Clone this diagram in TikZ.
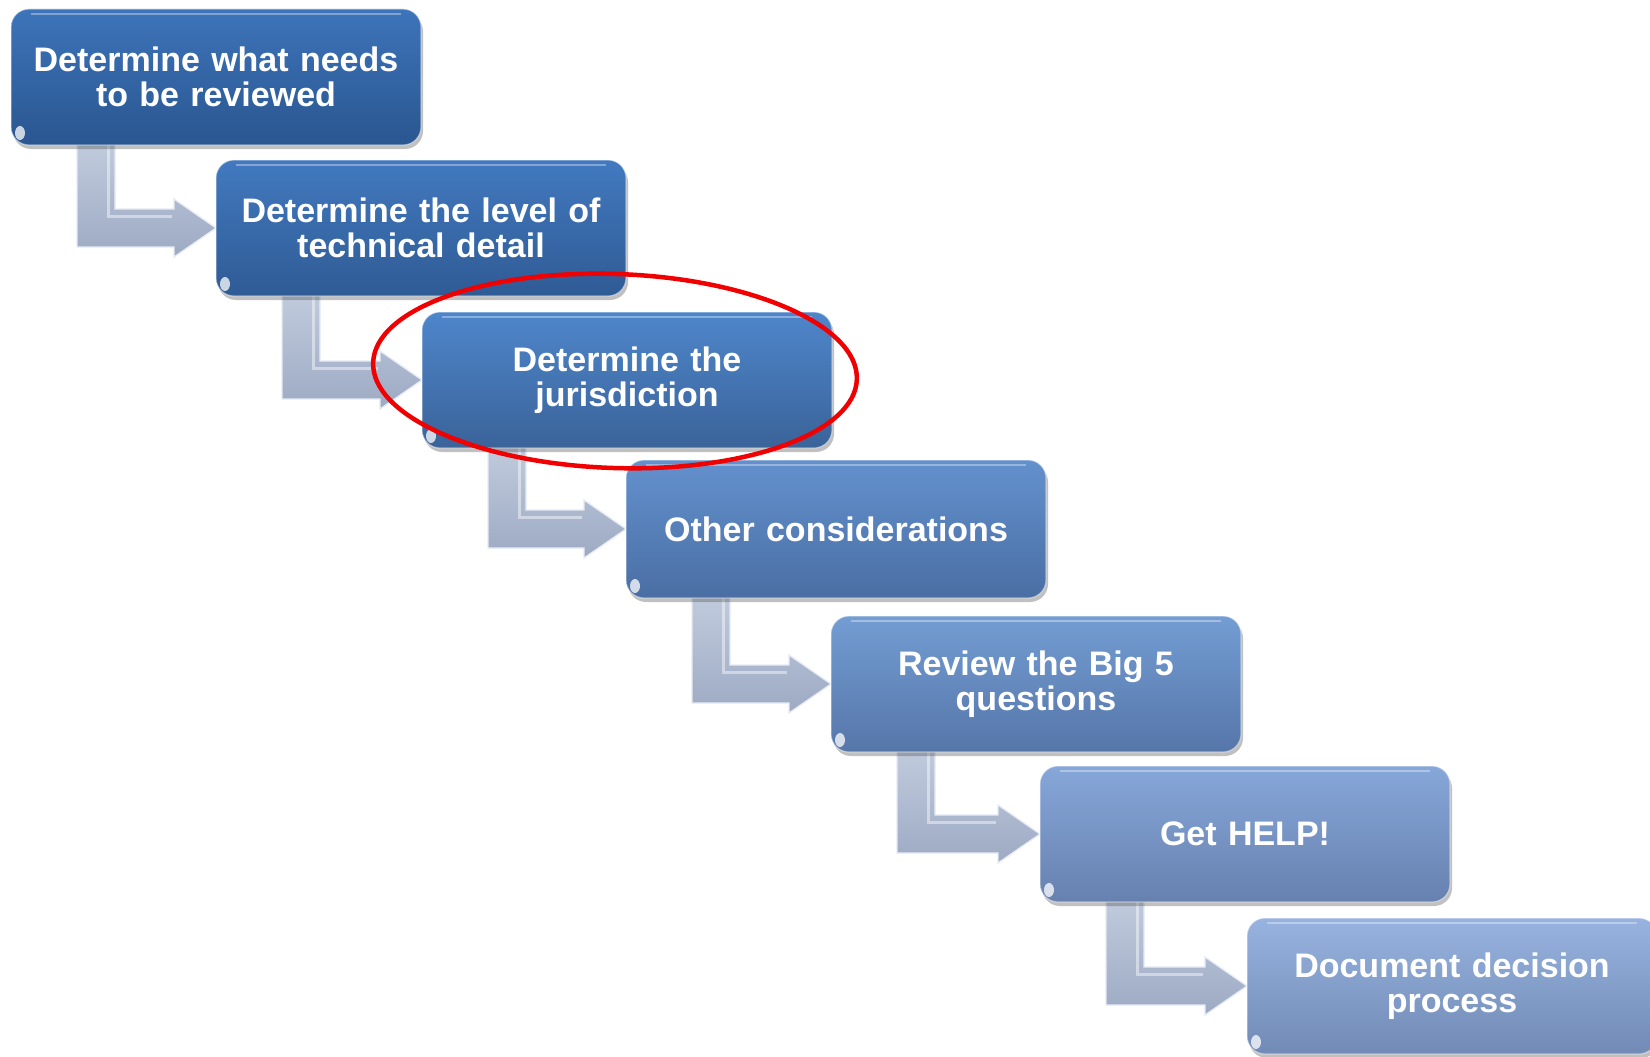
\documentclass[tikz,border=0pt]{standalone}
\usepackage{fontspec}
\setmainfont{Liberation Sans}
\usetikzlibrary{calc,shadows,shapes.geometric}
\pgfdeclarelayer{background}
\pgfsetlayers{background,main}
\definecolor{t1}{HTML}{3D74BA}\definecolor{d1}{HTML}{2A5690}
\definecolor{t2}{HTML}{4279BF}\definecolor{d2}{HTML}{2F5B95}
\definecolor{t3}{HTML}{4E86CB}\definecolor{d3}{HTML}{3A6399}
\definecolor{t4}{HTML}{6391CD}\definecolor{d4}{HTML}{4A6EA4}
\definecolor{t5}{HTML}{739DD3}\definecolor{d5}{HTML}{5676A9}
\definecolor{t6}{HTML}{86A7D9}\definecolor{d6}{HTML}{6781AF}
\definecolor{t7}{HTML}{98B3DF}\definecolor{d7}{HTML}{718AB6}
\definecolor{arrtop}{HTML}{C3CDDF}
\definecolor{arrbot}{HTML}{9DAAC3}
\definecolor{arredge}{HTML}{E6ECF5}
\definecolor{ringred}{HTML}{F00000}
\begin{document}
\begin{tikzpicture}[x=1pt,y=-1pt,
  box/.style={rectangle, rounded corners=18pt, minimum width=410pt, minimum height=136pt,
    anchor=north west, outer sep=0pt, inner sep=0pt, draw=white, draw opacity=0.45, line width=1.2pt,
    text=white, align=center, text width=390pt,
    font=\bfseries\fontsize{34}{35}\selectfont,
    drop shadow={shadow xshift=2pt, shadow yshift=-4pt, opacity=0.35, fill=black!70}},
  bentarrow/.style={top color=arrtop, bottom color=arrbot, draw=arredge, line width=1.3pt, line join=miter},
  ridge/.style={white, opacity=0.45, line width=3pt},
  gloss/.style={white, opacity=0.75},
  ring/.style={ellipse, draw=ringred, line width=4.5pt, minimum width=484pt, minimum height=194pt, inner sep=0pt, rotate=-2}
]
\clip (0,0) rectangle (1650,1057);
\begin{pgfonlayer}{background}
\fill[white] (0,0) rectangle (1650,1057);
\end{pgfonlayer}

\path
  node[box, top color=t1, bottom color=d1] (b1) at (11,9) {Determine what needs\\to be reviewed}
  node[box, top color=t2, bottom color=d2] (b2) at (216,160) {Determine the level of\\technical detail}
  node[box, top color=t3, bottom color=d3] (b3) at (422,312) {Determine the\\jurisdiction}
  node[box, top color=t4, bottom color=d4, minimum width=420pt, minimum height=138pt] (b4) at (626,460) {Other considerations}
  node[box, top color=t5, bottom color=d5] (b5) at (831,616) {Review the Big 5\\questions}
  node[box, top color=t6, bottom color=d6] (b6) at (1040,766) {Get HELP!}
  node[box, top color=t7, bottom color=d7] (b7) at (1247,918) {Document decision\\process};

% bent arrows, drawn behind the boxes
\begin{pgfonlayer}{background}
\foreach \a/\b in {b1/b2,b2/b3,b3/b4,b4/b5,b5/b6,b6/b7}{
  \draw[bentarrow] ($(\a.south west)+(66,-10)$) |- ($(\b.west)+(-42,19)$) -- ++(0,10) -- (\b.west)
     -- ++(-42,-29) -- ++(0,10) -| ($(\a.south west)+(104,-10)$) -- cycle;
  \draw[ridge] ($(\a.south west)+(97,0)$) |- ($(\b.west)+(-44,-12)$);
}
\end{pgfonlayer}

% glossy touches on boxes
\foreach \n in {b1,b2,b3,b4,b5,b6,b7}{
  \fill[gloss] ($(\n.south west)+(9,-12)$) ellipse [x radius=5, y radius=7];
  \draw[white, opacity=0.35, line width=2pt] ($(\n.north west)+(20,5)$) -- ($(\n.north east)+(-20,5)$);
}

% red highlight ring
\node[ring] (hl) at (615,371) {};
\end{tikzpicture}
\end{document}
